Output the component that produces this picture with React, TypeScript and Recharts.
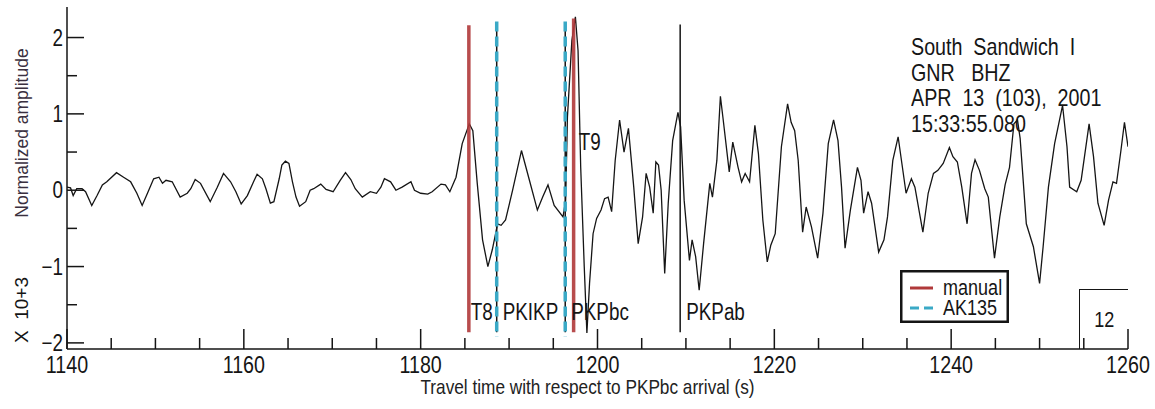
import React from 'react'
import {
  LineChart,
  Line,
  XAxis,
  YAxis,
  ReferenceLine,
  ReferenceDot,
  Legend,
} from 'recharts'

// seismogram, GNR BHZ, normalized amplitude (x 10^3)
const times = [
  1140.0, 1140.4, 1140.7, 1141.1, 1141.7, 1142.1, 1142.8, 1143.4, 1144.0, 1144.5,
  1145.6, 1146.4, 1147.2, 1147.9, 1148.5, 1149.1, 1149.8, 1150.4, 1150.8, 1151.2,
  1151.9, 1152.8, 1153.6, 1154.0, 1154.5, 1155.1, 1156.2, 1157.0, 1157.7, 1158.5,
  1159.1, 1159.7, 1160.4, 1161.1, 1161.5, 1162.1, 1162.5, 1163.0, 1163.4, 1164.0,
  1164.3, 1164.7, 1165.1, 1165.5, 1165.9, 1166.3, 1167.0, 1167.5, 1167.9, 1168.7,
  1169.3, 1170.1, 1170.9, 1171.5, 1172.1, 1172.6, 1173.4, 1174.3, 1175.0, 1175.5,
  1175.9, 1176.6, 1177.2, 1177.9, 1178.9, 1179.3, 1180.0, 1180.8, 1181.3, 1182.3,
  1182.8, 1183.3, 1184.0, 1184.7, 1185.5, 1185.9, 1186.4, 1187.0, 1187.6, 1188.1,
  1188.7, 1189.1, 1189.6, 1190.4, 1191.4, 1192.3, 1193.2, 1193.8, 1194.4, 1195.1,
  1196.1, 1196.4, 1196.6, 1197.1, 1197.5, 1197.8, 1198.1, 1198.5, 1198.8, 1199.1,
  1199.5, 1199.9, 1200.4, 1200.8, 1201.2, 1201.6, 1202.0, 1202.5, 1203.0, 1203.5,
  1204.1, 1204.6, 1205.1, 1205.5, 1205.9, 1206.3, 1206.6, 1206.9, 1207.2, 1207.6,
  1208.0, 1208.5, 1209.1, 1209.4, 1209.8, 1210.4, 1210.7, 1211.1, 1211.5, 1212.0,
  1212.7, 1213.0, 1213.5, 1213.9, 1214.2, 1214.9, 1215.3, 1215.9, 1216.3, 1216.7,
  1217.2, 1217.8, 1218.2, 1218.7, 1219.2, 1219.6, 1220.1, 1220.8, 1221.5, 1221.9,
  1222.3, 1222.7, 1223.2, 1223.6, 1224.2, 1224.9, 1225.5, 1226.1, 1226.7, 1227.2,
  1227.6, 1228.0, 1228.6, 1229.4, 1229.8, 1230.1, 1230.6, 1231.0, 1231.8, 1232.4,
  1232.8, 1233.4, 1234.0, 1234.9, 1235.5, 1235.9, 1236.8, 1237.4, 1238.0, 1238.5,
  1239.1, 1239.8, 1240.2, 1240.7, 1241.2, 1241.8, 1242.3, 1242.7, 1243.2, 1243.8,
  1244.2, 1244.9, 1245.5, 1246.1, 1246.6, 1247.1, 1247.5, 1247.8, 1248.5, 1249.3,
  1250.0, 1250.4, 1251.0, 1251.7, 1252.6, 1253.1, 1253.4, 1254.2, 1254.7, 1255.6,
  1256.1, 1256.6, 1257.3, 1257.8, 1258.3, 1258.7, 1259.2, 1259.6, 1260.0,
]
const amps = [
  0.04, 0.03, -0.07, 0.02, 0.02, -0.02, -0.2, -0.07, 0.07, 0.11,
  0.23, 0.17, 0.11, -0.04, -0.2, -0.04, 0.15, 0.17, 0.09, 0.13,
  0.11, -0.09, -0.04, 0.02, 0.14, 0.09, -0.15, 0.04, 0.22, 0.11,
  -0.02, -0.18, -0.07, 0.11, 0.21, 0.15, 0.02, -0.17, -0.15, 0.15,
  0.33, 0.38, 0.35, 0.11, -0.09, -0.21, -0.15, 0.0, 0.02, 0.08,
  0.01, -0.02, 0.13, 0.23, 0.14, 0.02, -0.09, -0.02, -0.04, 0.04,
  0.15, 0.11, 0.0, 0.04, 0.11, 0.0, -0.04, -0.05, -0.02, 0.08,
  0.07, -0.02, 0.17, 0.61, 0.87, 0.78, 0.09, -0.65, -1.0, -0.78,
  -0.44, -0.46, -0.39, 0.0, 0.52, 0.13, -0.26, -0.09, 0.07, -0.2,
  -0.35, -0.13, 0.96, 1.96, 2.27, 1.83, 0.3, -1.0, -1.87, -1.22,
  -0.57, -0.37, -0.26, -0.11, -0.09, -0.28, 0.39, 0.92, 0.5, 0.81,
  0.04, -0.7, -0.35, 0.22, 0.04, -0.3, 0.37, 0.33, 0.0, -1.09,
  -0.17, 0.65, 1.02, 0.83, -0.13, -0.92, -0.65, -0.87, -1.31, -0.7,
  0.09, -0.09, 0.39, 1.23, 0.94, 0.24, 0.63, 0.3, 0.11, 0.22,
  0.11, 0.85, 0.48, -0.39, -0.94, -0.72, -0.57, 0.57, 1.13, 0.89,
  0.78, 0.39, -0.55, -0.22, -0.48, -0.89, -0.3, 0.61, 0.92, 0.65,
  0.04, -0.76, -0.26, 0.3, 0.13, -0.3, -0.02, -0.17, -0.81, -0.65,
  -0.35, 0.39, 0.7, -0.04, 0.15, 0.04, -0.55, -0.04, 0.22, 0.26,
  0.35, 0.56, 0.44, 0.37, 0.04, -0.44, 0.22, 0.4, 0.26, 0.02,
  -0.09, -0.89, -0.35, 0.07, 0.3, 0.87, 0.92, 0.68, -0.44, -0.74,
  -1.22, -0.74, 0.04, 0.61, 1.11, 0.57, 0.04, -0.02, 0.13, 0.87,
  0.44, -0.17, -0.46, -0.13, 0.11, 0.09, 0.52, 0.89, 0.57,
]

// picks (s)
const manualLabels = ['T8', 'T9']
const manualTimes = [1185.45, 1197.3]
const ak135Times = [1188.6, 1196.35]
const phaseLabels = ['PKIKP', 'PKPbc', 'PKPab']
const phaseTimes = [1188.6, 1196.35, 1209.35]

const xTicks = [
  1140, 1145, 1150, 1155, 1160, 1165, 1170, 1175, 1180, 1185, 1190, 1195, 1200,
  1205, 1210, 1215, 1220, 1225, 1230, 1235, 1240, 1245, 1250, 1255, 1260,
]
const yTicks = [-2, -1.5, -1, -0.5, 0, 0.5, 1, 1.5, 2]

const headerLines = ['South  Sandwich  I', 'GNR   BHZ', 'APR  13  (103),  2001', '15:33:55.080']

const data = times.map((t, i) => ({ t, a: amps[i] }))

const FONT = "'Liberation Sans', Arial, sans-serif"
const SQ = 0.82 // plot text is horizontally squeezed
const INK = '#151515'
const RED = '#b0393a'
const CYAN = '#3aa9c6'

// squeezed svg text
const NText = ({ x, y, size, anchor = 'start', fill = INK, children }: any) => (
  <text
    transform={`translate(${x},${y}) scale(${SQ},1)`}
    textAnchor={anchor}
    fontFamily={FONT}
    fontSize={size}
    fill={fill}
    style={{ whiteSpace: 'pre' }}
  >
    {children}
  </text>
)

const XTick = (props: any) => {
  const { x, y, payload, top } = props
  const major = payload.value % 20 === 0
  const len = major ? 20 : 11
  return (
    <g>
      <line x1={x} x2={x} y1={y} y2={top ? y + len : y - len} stroke={INK} strokeWidth={1.5} />
      {!top && major && (
        <NText x={x} y={y + 24} size={24} anchor='middle'>
          {payload.value}
        </NText>
      )}
    </g>
  )
}

const YTick = (props: any) => {
  const { x, y, payload, right } = props
  const major = Number.isInteger(payload.value)
  const len = major ? 17 : 10
  return (
    <g>
      <line x1={x} x2={right ? x - len : x + len} y1={y} y2={y} stroke={INK} strokeWidth={1.5} />
      {!right && major && (
        <NText x={x - 4} y={y + 8} size={23} anchor='end'>
          {payload.value < 0 ? '\u2212' + Math.abs(payload.value) : payload.value}
        </NText>
      )}
    </g>
  )
}

const PickLegend = () => (
  <svg width={109} height={53} style={{ display: 'block' }}>
    <rect x={1.25} y={1.25} width={106.5} height={50.5} fill='#fff' stroke={INK} strokeWidth={2.5} />
    <line x1={10} x2={33} y1={18} y2={18} stroke={RED} strokeWidth={3} />
    <line x1={10} x2={33} y1={38} y2={38} stroke={CYAN} strokeWidth={3} strokeDasharray='9 5' />
    <NText x={43} y={25} size={22}>manual</NText>
    <NText x={43} y={45} size={22}>AK135</NText>
  </svg>
)

const pickLabel = (text: string, dx: number, dy: number) => (p: any) => {
  const vb = p.viewBox
  return (
    <NText x={vb.x + dx} y={vb.y + dy} size={23}>
      {text}
    </NText>
  )
}

export default function App() {
  return (
    <div style={{ position: 'absolute', left: 0, top: 0, width: 1155, height: 409, background: '#fff' }}>
      <LineChart
        width={1155}
        height={409}
        data={data}
        margin={{ top: 7, right: 27, bottom: 0, left: 0 }}
      >
        <XAxis
          dataKey='t'
          type='number'
          domain={[1140, 1260]}
          ticks={xTicks}
          interval={0}
          allowDataOverflow
          height={60}
          tickSize={0}
          tickMargin={0}
          axisLine={{ stroke: INK, strokeWidth: 1.5 }}
          tick={<XTick />}
          label={(p: any) => (
            <NText
              x={p.viewBox.x + p.viewBox.width / 2 - 10}
              y={p.viewBox.y + 45}
              size={21}
              anchor='middle'
              fill='#222'
            >
              Travel time with respect to PKPbc arrival (s)
            </NText>
          )}
        />
        <XAxis
          xAxisId='top'
          orientation='top'
          type='number'
          domain={[1140, 1260]}
          ticks={xTicks}
          interval={0}
          allowDataOverflow
          height={0}
          tickSize={0}
          tickMargin={0}
          axisLine={{ stroke: INK, strokeWidth: 1.5 }}
          tick={<XTick top />}
        />
        <YAxis
          type='number'
          domain={[-2.08, 2.4]}
          ticks={yTicks}
          interval={0}
          allowDataOverflow
          width={67}
          tickSize={0}
          tickMargin={0}
          axisLine={{ stroke: INK, strokeWidth: 1.5 }}
          tick={<YTick />}
          label={() => (
            <g>
              <text
                transform='translate(28,133) rotate(-90)'
                textAnchor='middle'
                fontFamily={FONT}
                fontSize={17.5}
                fill='#3a3040'
              >
                Normalized amplitude
              </text>
              <text
                transform='translate(28,310) rotate(-90)'
                textAnchor='middle'
                fontFamily={FONT}
                fontSize={19}
                fill={INK}
                style={{ whiteSpace: 'pre' }}
              >
                {'X  10+3'}
              </text>
            </g>
          )}
        />
        <YAxis
          yAxisId='right'
          orientation='right'
          type='number'
          domain={[-2.08, 2.4]}
          ticks={yTicks}
          interval={0}
          allowDataOverflow
          width={0}
          tickSize={0}
          tickMargin={0}
          axisLine={{ stroke: INK, strokeWidth: 1.5 }}
          tick={<YTick right />}
        />
        <Line
          dataKey='a'
          type='linear'
          stroke={INK}
          strokeWidth={1.3}
          dot={false}
          isAnimationActive={false}
        />
        {phaseTimes.map((t) => (
          <ReferenceLine
            key={'ph' + t}
            segment={[{ x: t, y: 2.17 }, { x: t, y: -1.86 }]}
            stroke={INK}
            strokeWidth={1.5}
          />
        ))}
        {ak135Times.map((t) => (
          <ReferenceLine
            key={'ak' + t}
            segment={[{ x: t, y: 2.21 }, { x: t, y: -1.92 }]}
            stroke={CYAN}
            strokeWidth={3.5}
            strokeDasharray='10 5'
          />
        ))}
        {manualTimes.map((t, i) => (
          <ReferenceLine
            key={'m' + t}
            segment={[{ x: t, y: i === 1 ? 2.25 : 2.16 }, { x: t, y: -1.86 }]}
            stroke={RED}
            strokeOpacity={0.9}
            strokeWidth={3.5}
          />
        ))}
        {manualTimes.map((t, i) => (
          <ReferenceDot
            key={'ml' + t}
            x={t}
            y={i === 0 ? -1.6 : 0.63}
            r={1}
            fill='none'
            stroke='none'
            label={pickLabel(manualLabels[i], i === 0 ? 3 : 6, 9)}
          />
        ))}
        {phaseTimes.map((t, i) => (
          <ReferenceDot
            key={'pl' + t}
            x={t}
            y={-1.6}
            r={1}
            fill='none'
            stroke='none'
            label={pickLabel(phaseLabels[i], 7, 9)}
          />
        ))}
        <Legend
          layout='horizontal'
          verticalAlign='middle'
          align='center'
          content={<PickLegend />}
          wrapperStyle={{ position: 'absolute', left: 900, top: 270, width: 109, height: 53 }}
        />
      </LineChart>
      <div
        style={{
          position: 'absolute',
          left: 911,
          top: 34,
          fontFamily: FONT,
          fontSize: 24,
          lineHeight: '25.5px',
          color: INK,
          whiteSpace: 'pre',
          transform: `scaleX(${SQ})`,
          transformOrigin: 'left top',
        }}
      >
        {headerLines.map((l) => (
          <div key={l}>{l}</div>
        ))}
      </div>
      <div
        style={{
          position: 'absolute',
          left: 1079,
          top: 289,
          width: 49,
          height: 60,
          boxSizing: 'border-box',
          borderLeft: `1.5px solid ${INK}`,
          borderTop: `1.5px solid ${INK}`,
          fontFamily: FONT,
          fontSize: 22,
          color: INK,
          textAlign: 'center',
          paddingTop: 17,
        }}
      >
        <span style={{ display: 'inline-block', transform: `scaleX(${SQ})` }}>12</span>
      </div>
    </div>
  )
}
